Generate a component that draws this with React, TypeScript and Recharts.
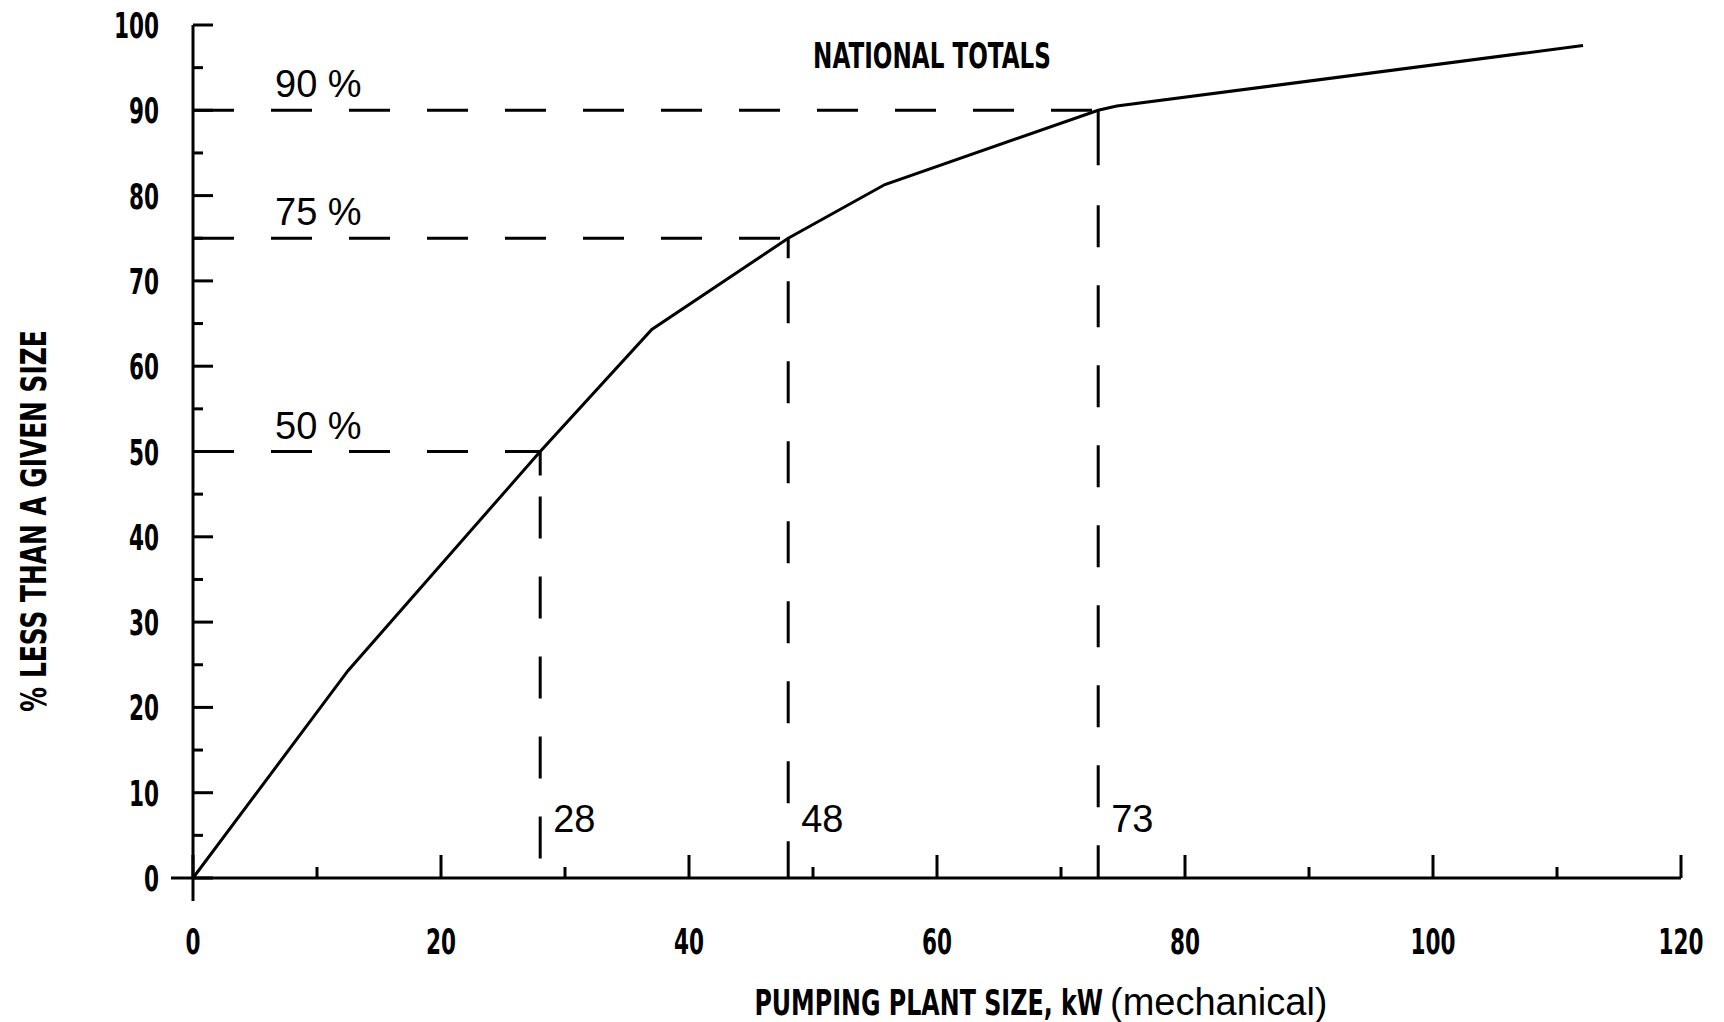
import React from "react";
import {
  LineChart,
  Line,
  XAxis,
  YAxis,
  ReferenceLine,
  Customized,
} from "recharts";

// cumulative distribution of pumping plant size (national totals)
const sizeKw = [0, 12.5, 28, 37, 48, 55.8, 73, 74.5, 112.1];
const pctLess = [0, 24.3, 50, 64.3, 75, 81.3, 90, 90.5, 97.6];

const xTicks = [0, 10, 20, 30, 40, 50, 60, 70, 80, 90, 100, 110, 120];
const yTicks = [0, 5, 10, 15, 20, 25, 30, 35, 40, 45, 50, 55, 60, 65, 70, 75, 80, 85, 90, 95, 100];

// percentile markers: [size, percent]
const markerSize = [28, 48, 73];
const markerPct = [50, 75, 90];
const markerPctLabels = ["50 %", "75 %", "90 %"];

const BLOCK = "'DejaVu Sans', sans-serif";
const PLAIN = "'Liberation Sans', Arial, sans-serif";

const chartData = sizeKw.map((x, i) => ({ x, y: pctLess[i] }));

function BlockText({
  x,
  y,
  anchor = "middle",
  sx = 0.6,
  size = 33,
  rotate = 0,
  children,
}: {
  x: number;
  y: number;
  anchor?: "start" | "middle" | "end";
  sx?: number;
  size?: number;
  rotate?: number;
  children: React.ReactNode;
}) {
  return (
    <text
      transform={`translate(${x},${y}) rotate(${rotate}) scale(${sx},1)`}
      textAnchor={anchor}
      fontFamily={BLOCK}
      fontWeight="bold"
      fontSize={size}
      fill="#000"
    >
      {children}
    </text>
  );
}

function XTick(props: any) {
  const { x, y, payload } = props;
  const v = payload.value;
  const major = v % 20 === 0;
  return (
    <g>
      <line x1={x} x2={x} y1={y} y2={y - (major ? 23 : 11)} stroke="#000" strokeWidth={3} />
      {v === 0 && <line x1={x} x2={x} y1={y} y2={y + 23} stroke="#000" strokeWidth={3} />}
      {major && (
        <BlockText x={x} y={y + 76} anchor="middle" size={36}>
          {v}
        </BlockText>
      )}
    </g>
  );
}

function YTick(props: any) {
  const { x, y, payload } = props;
  const v = payload.value;
  const major = v % 10 === 0;
  return (
    <g>
      <line x1={x} x2={x + (major ? 20 : 10)} y1={y} y2={y} stroke="#000" strokeWidth={3} />
      {v === 0 && <line x1={x - 22} x2={x} y1={y} y2={y} stroke="#000" strokeWidth={3} />}
      {major && (
        <BlockText x={x - 34} y={y + 13} anchor="end" size={36}>
          {v}
        </BlockText>
      )}
    </g>
  );
}

const hLabel = (text: string) => (p: any) => {
  const vb = p.viewBox;
  return (
    <text x={vb.x + 82} y={vb.y - 13} fontFamily={PLAIN} fontSize={38} fill="#000">
      {text}
    </text>
  );
};

const vLabel = (text: string) => (p: any) => {
  const vb = p.viewBox;
  return (
    <text x={vb.x + 13} y={vb.y + vb.height - 46} fontFamily={PLAIN} fontSize={38} fill="#000">
      {text}
    </text>
  );
};

const rest = Array(10).fill("42 38").join(" ");
const vDash = [`24 21 ${rest}`, `20 23 ${rest}`, `55 40 ${rest}`];

function Titles() {
  return (
    <g>
      <BlockText x={932} y={68} sx={0.66} size={35}>
        NATIONAL TOTALS
      </BlockText>
      <BlockText x={1103} y={1015} anchor="end" sx={0.68} size={35}>
        PUMPING PLANT SIZE, kW
      </BlockText>
      <text x={1110} y={1015} fontFamily={PLAIN} fontSize={38} fill="#000">
        (mechanical)
      </text>
      <BlockText x={46} y={521} rotate={-90} sx={0.71} size={35}>
        % LESS THAN A GIVEN SIZE
      </BlockText>
    </g>
  );
}

export default function App() {
  return (
    <div style={{ position: "absolute", left: 0, top: 0, background: "#fff" }}>
      <LineChart
        width={1724}
        height={1022}
        data={chartData}
        margin={{ top: 25, right: 43, bottom: 0, left: 0 }}
      >
        <XAxis
          dataKey="x"
          type="number"
          domain={[0, 120]}
          ticks={xTicks}
          interval={0}
          height={144}
          tickSize={0}
          tickMargin={0}
          tickLine={false}
          axisLine={{ stroke: "#000", strokeWidth: 3 }}
          tick={XTick}
        />
        <YAxis
          type="number"
          domain={[0, 100]}
          ticks={yTicks}
          interval={0}
          width={193}
          tickSize={0}
          tickMargin={0}
          tickLine={false}
          axisLine={{ stroke: "#000", strokeWidth: 3 }}
          tick={YTick}
        />
        {markerSize.map((s, i) => (
          <ReferenceLine
            key={`h${i}`}
            segment={[
              { x: 0, y: markerPct[i] },
              { x: s, y: markerPct[i] },
            ]}
            stroke="#000"
            strokeWidth={3}
            strokeDasharray="41 37"
            label={hLabel(markerPctLabels[i])}
          />
        ))}
        {markerSize.map((s, i) => (
          <ReferenceLine
            key={`v${i}`}
            segment={[
              { x: s, y: markerPct[i] },
              { x: s, y: 0 },
            ]}
            stroke="#000"
            strokeWidth={3}
            strokeDasharray={vDash[i]}
            label={vLabel(String(s))}
          />
        ))}
        <Line
          type="linear"
          dataKey="y"
          stroke="#000"
          strokeWidth={3}
          dot={false}
          activeDot={false}
          isAnimationActive={false}
        />
        <Customized component={<Titles />} />
      </LineChart>
    </div>
  );
}
